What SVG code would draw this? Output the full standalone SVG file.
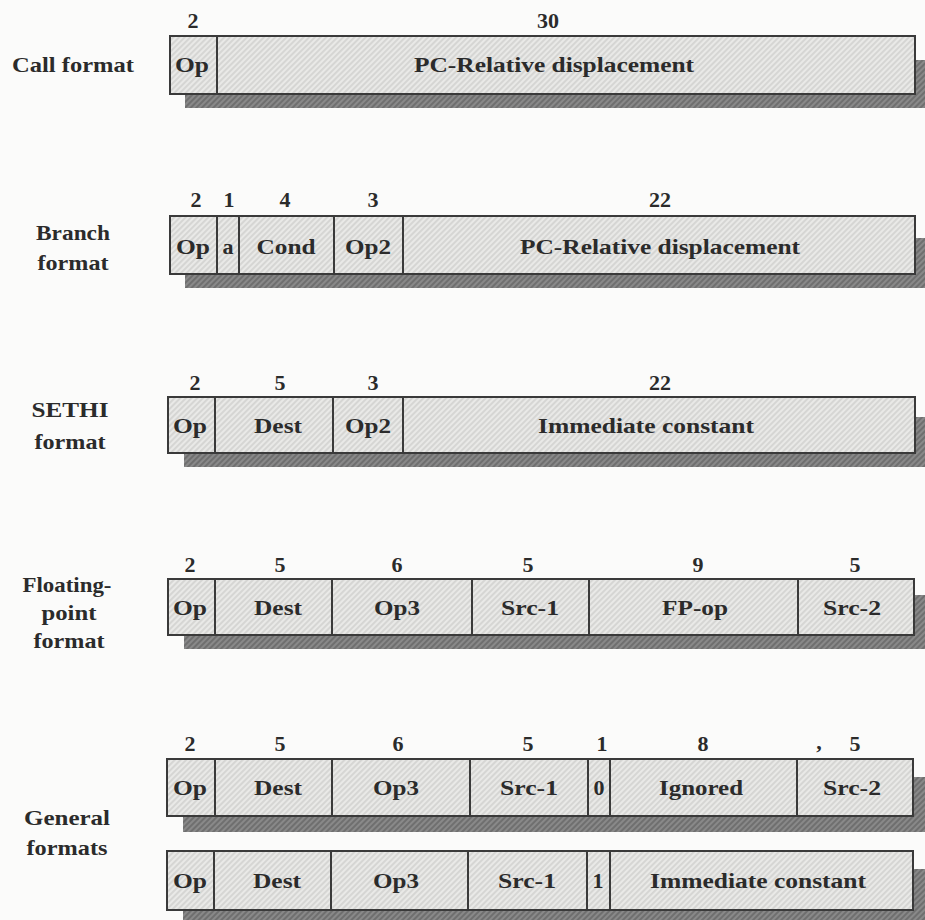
<svg xmlns="http://www.w3.org/2000/svg" width="925" height="920" viewBox="0 0 925 920">
<defs>
<pattern id="hatch" patternUnits="userSpaceOnUse" width="4" height="4" patternTransform="rotate(45)">
<rect width="4" height="4" fill="#e9e9e7"/>
<line x1="1" y1="0" x2="1" y2="4" stroke="#c9c9c7" stroke-width="1.2"/>
</pattern>
<pattern id="shade" patternUnits="userSpaceOnUse" width="4" height="4" patternTransform="rotate(45)">
<rect width="4" height="4" fill="#6f6f6f"/>
<line x1="1" y1="0" x2="1" y2="4" stroke="#9a9a9a" stroke-width="1.2"/>
</pattern>
</defs>
<style>
.bg{fill:#fbfbfa}
.box{fill:url(#hatch);stroke:#3a3a3a;stroke-width:2}
.sep{stroke:#3a3a3a;stroke-width:2}
.sh{fill:url(#shade)}
text{font-family:"Liberation Serif","Times New Roman",serif;font-weight:bold;font-size:22px;fill:#2b2b2b;text-anchor:middle}
</style>
<rect class="bg" x="0" y="0" width="925" height="920"/>

<g id="call">
<text x="73" y="72" textLength="122" lengthAdjust="spacingAndGlyphs">Call format</text>
<rect class="sh" x="185" y="60" width="745" height="48"/>
<rect class="box" x="170" y="36" width="745" height="58"/>
<line class="sep" x1="217" y1="36" x2="217" y2="94"/>
<text x="193" y="28">2</text>
<text x="548" y="28">30</text>
<text x="192" y="72" textLength="34" lengthAdjust="spacingAndGlyphs">Op</text>
<text x="554" y="72" textLength="280" lengthAdjust="spacingAndGlyphs">PC-Relative displacement</text>
</g>

<g id="branch">
<text x="73" y="240" textLength="74" lengthAdjust="spacingAndGlyphs">Branch</text>
<text x="73" y="270" textLength="71" lengthAdjust="spacingAndGlyphs">format</text>
<rect class="sh" x="185" y="238" width="745" height="50"/>
<rect class="box" x="170" y="216" width="745" height="58"/>
<line class="sep" x1="217" y1="216" x2="217" y2="274"/>
<line class="sep" x1="239" y1="216" x2="239" y2="274"/>
<line class="sep" x1="334" y1="216" x2="334" y2="274"/>
<line class="sep" x1="403" y1="216" x2="403" y2="274"/>
<text x="196" y="207">2</text>
<text x="229" y="207">1</text>
<text x="285" y="207">4</text>
<text x="373" y="207">3</text>
<text x="660" y="207">22</text>
<text x="193" y="254" textLength="34" lengthAdjust="spacingAndGlyphs">Op</text>
<text x="228" y="254">a</text>
<text x="286" y="254" textLength="59" lengthAdjust="spacingAndGlyphs">Cond</text>
<text x="368" y="254" textLength="46" lengthAdjust="spacingAndGlyphs">Op2</text>
<text x="660" y="254" textLength="280" lengthAdjust="spacingAndGlyphs">PC-Relative displacement</text>
</g>

<g id="sethi">
<text x="70" y="417" textLength="77" lengthAdjust="spacingAndGlyphs">SETHI</text>
<text x="70" y="449" textLength="71" lengthAdjust="spacingAndGlyphs">format</text>
<rect class="sh" x="184" y="417" width="746" height="50"/>
<rect class="box" x="168" y="397" width="747" height="56"/>
<line class="sep" x1="215" y1="397" x2="215" y2="453"/>
<line class="sep" x1="333" y1="397" x2="333" y2="453"/>
<line class="sep" x1="403" y1="397" x2="403" y2="453"/>
<text x="195" y="390">2</text>
<text x="280" y="390">5</text>
<text x="373" y="390">3</text>
<text x="660" y="390">22</text>
<text x="190" y="433" textLength="34" lengthAdjust="spacingAndGlyphs">Op</text>
<text x="278" y="433" textLength="48" lengthAdjust="spacingAndGlyphs">Dest</text>
<text x="368" y="433" textLength="46" lengthAdjust="spacingAndGlyphs">Op2</text>
<text x="646" y="433" textLength="216" lengthAdjust="spacingAndGlyphs">Immediate constant</text>
</g>

<g id="floating">
<text x="67" y="592" textLength="89" lengthAdjust="spacingAndGlyphs">Floating-</text>
<text x="69" y="620" textLength="55" lengthAdjust="spacingAndGlyphs">point</text>
<text x="69" y="648" textLength="71" lengthAdjust="spacingAndGlyphs">format</text>
<rect class="sh" x="184" y="595" width="746" height="54"/>
<rect class="box" x="168" y="579" width="746" height="56"/>
<line class="sep" x1="215" y1="579" x2="215" y2="635"/>
<line class="sep" x1="332" y1="579" x2="332" y2="635"/>
<line class="sep" x1="472" y1="579" x2="472" y2="635"/>
<line class="sep" x1="589" y1="579" x2="589" y2="635"/>
<line class="sep" x1="798" y1="579" x2="798" y2="635"/>
<text x="190" y="572">2</text>
<text x="280" y="572">5</text>
<text x="397" y="572">6</text>
<text x="528" y="572">5</text>
<text x="698" y="572">9</text>
<text x="855" y="572">5</text>
<text x="190" y="615" textLength="34" lengthAdjust="spacingAndGlyphs">Op</text>
<text x="278" y="615" textLength="48" lengthAdjust="spacingAndGlyphs">Dest</text>
<text x="397" y="615" textLength="46" lengthAdjust="spacingAndGlyphs">Op3</text>
<text x="530" y="615" textLength="58" lengthAdjust="spacingAndGlyphs">Src-1</text>
<text x="695" y="615" textLength="66" lengthAdjust="spacingAndGlyphs">FP-op</text>
<text x="852" y="615" textLength="58" lengthAdjust="spacingAndGlyphs">Src-2</text>
</g>

<g id="general-label">
<text x="67" y="825" textLength="86" lengthAdjust="spacingAndGlyphs">General</text>
<text x="67" y="855" textLength="81" lengthAdjust="spacingAndGlyphs">formats</text>
</g>

<g id="general-reg">
<rect class="sh" x="183" y="777" width="747" height="55"/>
<rect class="box" x="167" y="759" width="746" height="57"/>
<line class="sep" x1="215" y1="759" x2="215" y2="816"/>
<line class="sep" x1="332" y1="759" x2="332" y2="816"/>
<line class="sep" x1="470" y1="759" x2="470" y2="816"/>
<line class="sep" x1="588" y1="759" x2="588" y2="816"/>
<line class="sep" x1="610" y1="759" x2="610" y2="816"/>
<line class="sep" x1="797" y1="759" x2="797" y2="816"/>
<text x="190" y="751">2</text>
<text x="280" y="751">5</text>
<text x="398" y="751">6</text>
<text x="528" y="751">5</text>
<text x="602" y="751">1</text>
<text x="703" y="751">8</text>
<text x="819" y="749">,</text>
<text x="855" y="751">5</text>
<text x="190" y="795" textLength="34" lengthAdjust="spacingAndGlyphs">Op</text>
<text x="278" y="795" textLength="48" lengthAdjust="spacingAndGlyphs">Dest</text>
<text x="396" y="795" textLength="46" lengthAdjust="spacingAndGlyphs">Op3</text>
<text x="529" y="795" textLength="58" lengthAdjust="spacingAndGlyphs">Src-1</text>
<text x="599" y="795">0</text>
<text x="701" y="795" textLength="84" lengthAdjust="spacingAndGlyphs">Ignored</text>
<text x="852" y="795" textLength="58" lengthAdjust="spacingAndGlyphs">Src-2</text>
</g>

<g id="general-imm">
<rect class="sh" x="183" y="869" width="747" height="56"/>
<rect class="box" x="167" y="851" width="746" height="59"/>
<line class="sep" x1="214" y1="851" x2="214" y2="910"/>
<line class="sep" x1="331" y1="851" x2="331" y2="910"/>
<line class="sep" x1="468" y1="851" x2="468" y2="910"/>
<line class="sep" x1="587" y1="851" x2="587" y2="910"/>
<line class="sep" x1="610" y1="851" x2="610" y2="910"/>
<text x="190" y="888" textLength="34" lengthAdjust="spacingAndGlyphs">Op</text>
<text x="277" y="888" textLength="48" lengthAdjust="spacingAndGlyphs">Dest</text>
<text x="396" y="888" textLength="46" lengthAdjust="spacingAndGlyphs">Op3</text>
<text x="527" y="888" textLength="58" lengthAdjust="spacingAndGlyphs">Src-1</text>
<text x="598" y="888">1</text>
<text x="758" y="888" textLength="216" lengthAdjust="spacingAndGlyphs">Immediate constant</text>
</g>

<g id="connectors"/>
</svg>
